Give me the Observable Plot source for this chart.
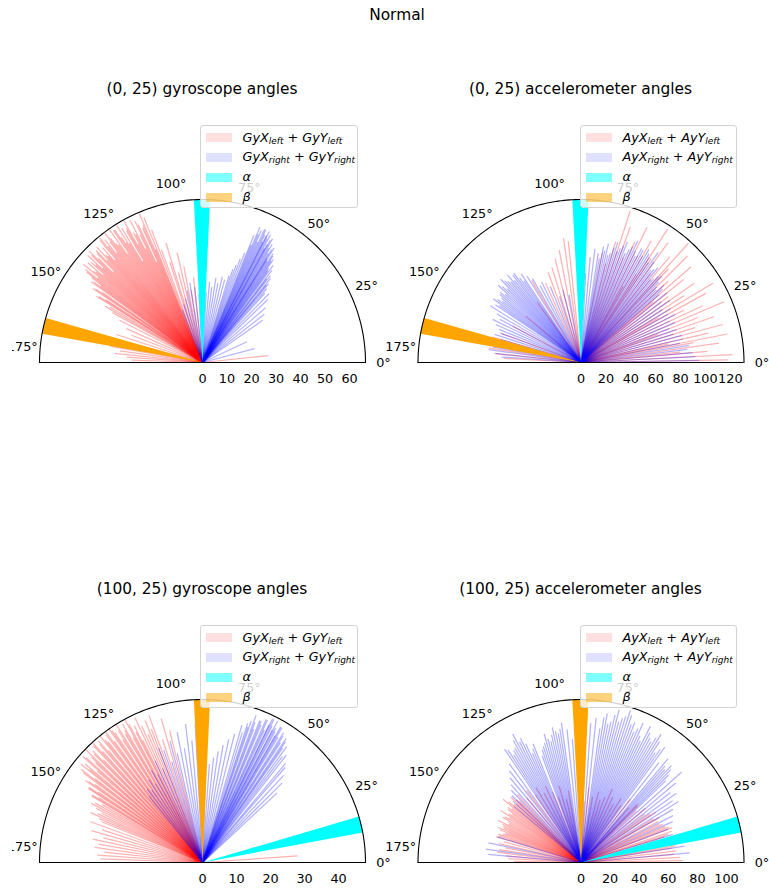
<!DOCTYPE html>
<html><head><meta charset="utf-8">
<script src="https://cdn.jsdelivr.net/npm/d3@7"></script>
<script src="https://cdn.jsdelivr.net/npm/@observablehq/plot@0.6"></script>
<style>
body{margin:0;background:#fff;}
#fig{position:relative;width:769px;height:888px;overflow:hidden;font-family:"DejaVu Sans",sans-serif;color:#000;background:#fff;}
.ttl{position:absolute;font-size:15.4px;white-space:nowrap;transform:translate(-50%,-50%);line-height:1;}
.panel{position:absolute;}
.leg{position:absolute;background:rgba(255,255,255,0.8);border:1px solid #d3d3d3;border-radius:3px;box-sizing:border-box;}
.patch{position:absolute;left:5px;width:26px;height:9px;}
.ltxt{position:absolute;left:41.5px;font-size:12.8px;line-height:1;white-space:nowrap;transform:translateY(-50%);}
.ltxt i{font-style:italic;}
.ltxt sub{font-size:70%;vertical-align:-0.28em;line-height:0;}
</style></head>
<body><div id="fig"></div>
<script>
// ---------- data ----------
const figureTitle = "Normal";
const panelTitles = ["(0, 25) gyroscope angles", "(0, 25) accelerometer angles", "(100, 25) gyroscope angles", "(100, 25) accelerometer angles"];
const thetaTicks = [0, 25, 50, 75, 100, 125, 150, 175];
const rTicksGyro0 = [0, 10, 20, 30, 40, 50, 60];
const rTicksAcc0 = [0, 20, 40, 60, 80, 100, 120];
const rTicksGyro100 = [0, 10, 20, 30, 40];
const rTicksAcc100 = [0, 20, 40, 60, 80, 100];
const rMax = [66.5, 131, 47.9, 112];
const alphaAngles = [90.2, 90.2, 13.5, 13.5];
const betaAngles = [167, 167, 90.2, 90.2];
const wedgeWidthDeg = 5.7;
const gyroLegend = ["GyX|left|GyY|left", "GyX|right|GyY|right"];
const accLegend = ["AyX|left|AyY|left", "AyX|right|AyY|right"];

// [theta (deg), r]
const gyro0Left = [[111,58],[112,64],[112.5,50],[113,66],[114,60],[114.5,45],[115,62],[116,58],[116.5,52],[117,65],[118,60],[118.5,55],[119,66],[120,62],[120.5,48],[121,64],[122,66],[122.5,58],[123,61],[124,65],[124.5,54],[125,66],[126,60],[126.5,63],[127,66],[128,57],[128.5,64],[129,61],[130,65],[130.5,55],[131,62],[132,59],[132.5,64],[133,57],[134,62],[134.5,52],[135,60],[136,63],[136.5,56],[137,64],[138,61],[138.5,54],[139,62],[140,58],[141,55],[142,60],[143,52],[144,56],[145,50],[146,54],[147,47],[148,51],[149,44],[150,46],[151,42],
  [113.5,61],[115.5,64],[117.5,59],[119.5,63],[121.5,57],[123.5,65],[125.5,59],[127.5,62],[129.5,66],[131.5,58],[133.5,63],[135.5,65],[137.5,59],[139.5,57],[141.5,61],[143.5,55],[145.5,53],[147.5,50],[140.5,63],[142.5,57],
  [96,35],[99,30],[101,40],[103,46],[105,38],[107,51],[108,43],[110,49],[153,38],[156,34],[159,31],[162,37],[165,33],[168,36],[170,38],[172,34],[174,36],[176,31],[178,29],[6,27]];
const gyro0Right = [[49,40],[50,42],[51,44],[52,45],[53,47],[54,49],[55,47],[55.5,51],[56,50],[57,53],[57.5,49],[58,55],[59,52],[59.5,56],[60,54],[61,57],[61.5,53],[62,59],[63,60],[63.5,55],[64,58],[65,60],[65.5,54],[66,59],[67,60],[67.5,52],[68,56],[69,48],[70,45],[71,42],[72,40],
  [54.5,46],[56.5,52],[58.5,54],[60.5,58],[62.5,57],[64.5,60],[66.5,57],[58.2,50],[61.2,55],[63.2,58],[52.5,43],[50.5,41],
  [35,30],[38,32],[41,34],[44,37],[46,39],[48,38],[73,37],[75,35],[77,36],[79,33],[81,35],[83,31],[85,33],[87,29],[93,28],[96,31],[99,33],[102,30],[105,27],[108,25],[111,23],[25,20],[15,22]];
const acc0Left = [[1,118],[3,122],[5,102],[6,80],[8,112],[10,92],[11,120],[12,72],[13,105],[15,118],[17,96],[19,113],[20,66],[21,101],[23,125],[25,108],[27,93],[29,115],[30,72],[31,124],[33,99],[35,111],[37,88],[39,106],[40,76],[41,117],[43,96],[45,121],[47,103],[48,129],[50,111],[52,91],[54,119],[56,101],[57,128],[58,84],[60,113],[61,70],[62,97],[64,121],[66,106],[68,91],[70,116],[72,128],[74,101],[76,82],[79,90],
  [96,98],[98,101],[101,92],[104,86],[107,80],[110,77],[114,70],[121,77],[126,60],[140,58],[152,62],[160,68],[164,74],[168,72],[171,75],[174,70],[177,62]];
const acc0Right = [[100,55],[104,60],[108,56],[112,66],[116,72],[118,70],[120,78],[122,82],[124,86],[126,84],[128,89],[129,85],[130,92],[132,88],[134,93],[136,88],[138,82],[140,85],[142,80],[144,87],[146,83],[148,86],[150,78],[152,74],[154,79],[156,75],[158,71],[160,69],[162,73],[164,67],[166,71],[168,74],[170,72],[172,75],[174,69],[176,64],
  [125,80],[127,90],[131,86],[133,90],[135,84],[137,91],[139,86],[141,82],[143,84],[145,80],
  [1,95],[3,92],[5,90],[7,86],[9,88],[11,81],[13,84],[15,84],[17,78],[19,81],[21,76],[23,82],[25,79],[27,85],[29,80],[31,84],[33,78],[35,87],[37,81],[39,89],[41,83],[43,91],[45,86],[47,95],[49,89],[51,98],[53,93],[55,108],[57,101],[59,106],[61,103],[63,96],[65,108],[67,99],[69,104],[71,97],[73,101],[75,91],[77,98],[79,95],[81,89],[83,92],[85,85],[87,72],
  [42,88],[44,84],[46,90],[48,93],[50,87],[52,95],[54,100],[56,97],[58,103],[60,99],[62,104],[64,100],[66,102],[68,95],[70,100],[72,94],[74,96],[76,89],[78,92],[80,85]];
const gyro100Left = [[104,40],[106,44],[108,38],[110,46],[111,42],[112,45],[113,41],[114,44],[115,47],[116,40],[117,43],[118,46],[119,42],[120,47],[121,44],[122,48],[123,43],[124,46],[125,48],[126,44],[127,47],[128,45],[129,48],[130,43],[131,46],[132,44],[133,47],[134,42],[135,45],[136,48],[137,43],[138,46],[139,41],[140,45],[141,46],[142,40],[143,44],[144,39],[145,42],[146,37],[147,40],[148,36],[149,38],[150,34],[152,37],[154,33],[156,36],[158,32],[160,35],[162,31],[164,34],[166,30],[168,33],[170,31],[172,32],[174,29],[176,31],[178,30],[4,28],
  [116.5,45],[118.5,48],[120.5,45],[122.5,46],[124.5,47],[126.5,48],[128.5,46],[130.5,47],[132.5,48],[134.5,46],[136.5,45],[138.5,47],[140.5,43],[142.5,45],[144.5,41],[146.5,40],[148.5,38],[151,36],[153,35],[155,34],[157,33]];
const gyro100Right = [[91,38],[93,41],[95,36],[97,41],[99,34],[101,39],[103,33],[105,37],[107,31],[109,35],[111,36],[113,30],[115,33],[117,29],[119,31],[121,27],[123,29],[125,26],[127,27],[129,25],
  [43,30],[45,33],[47,35],[49,37],[50,38],[52,40],[53,39],[54,42],[55,41],[56,44],[57,42],[58,45],[59,43],[60,46],[61,44],[62,47],[63,45],[64,47],[65,43],[66,46],[67,44],[68,45],[69,42],[70,46],[71,44],[72,43],[73,40],[74,42],[76,39],[78,37],[80,35],[82,33],[84,31],[86,29],[88,28],
  [55.5,43],[57.5,44],[59.5,46],[61.5,45],[63.5,47],[65.5,46],[67.5,45],[69.5,44],[71.5,42],[62.2,44],[64.2,45],[60.2,43]];
const acc100Left = [[100,50],[103,45],[106,55],[109,48],[112,52],[115,58],[118,54],[121,60],[124,56],[127,62],[130,58],[133,64],[135,60],[137,66],[139,61],[141,69],[143,63],[145,58],[147,66],[149,61],[151,57],[153,64],[155,59],[157,62],[159,56],[161,60],[163,61],[165,55],[167,58],[169,53],[171,57],[173,58],[175,52],[177,50],[179,46],
  [136,62],[138,60],[140,65],[142,60],[144,62],[146,60],[148,58],[150,62],[152,56],[154,60],[156,58],[158,60],[160,57],[162,59],
  [1,70],[3,68],[5,64],[7,66],[9,63],[11,68],[13,62],[15,65],[17,60],[19,66],[21,67],[23,63],[25,62],[28,60],[31,58],[34,62],[37,55],[40,58],[43,52],[46,56],[49,50],[52,55],[55,48],[58,52],[61,46],[64,50],[67,55],[70,48],[73,45],[76,50],[80,46],[84,52],[87,42],
  [10,66],[14,64],[18,63],[22,65],[26,60],[30,62],[35,58],[45,55]];
const acc100Right = [[94,85],[96,92],[98,97],[100,90],[102,95],[104,86],[106,92],[108,84],[110,78],[112,88],[114,82],[116,95],[118,100],[120,91],[122,87],[124,94],[126,84],[128,80],[130,76],[132,72],[134,69],[136,66],[138,63],[140,60],[163,60],[168,65],[172,66],[175,64],
  [99,93],[101,92],[103,90],[105,88],[107,86],[109,82],[113,85],[115,90],[117,93],[119,96],[121,90],[123,92],
  [5,75],[9,72],[13,70],[17,66],[21,64],[24,69],[27,71],[30,73],[32,79],[34,76],[36,81],[38,78],[40,85],[42,93],[44,81],[46,89],[48,86],[50,93],[52,87],[54,98],[56,91],[58,104],[60,96],[62,101],[64,93],[66,105],[68,97],[70,101],[71,107],[72,110],[74,103],[76,108],[78,99],[80,104],[82,93],[84,100],[86,96],[88,86],
  [55,95],[57,99],[59,100],[61,98],[63,105],[65,96],[67,100],[69,103],[73,105],[75,100],[77,104],[79,97],[81,101],[45,85],[47,91],[49,88]];

// ---------- layout ----------
const fig = document.getElementById("fig");
const P = 163; // pixel radius
const panels = [
  {title: panelTitles[0], left: 12, top: 160, width: 388, height: 232, cx: 202, cy: 362, R: rMax[0], rTicks: rTicksGyro0, red: gyro0Left, blue: gyro0Right, alpha: alphaAngles[0], beta: betaAngles[0], legend: gyroLegend, legX: 200, legY: 125, legW: 158, titleY: 90},
  {title: panelTitles[1], left: 385, top: 160, width: 384, height: 232, cx: 580.5, cy: 362, R: rMax[1], rTicks: rTicksAcc0, red: acc0Left, blue: acc0Right, alpha: alphaAngles[1], beta: betaAngles[1], legend: accLegend, legX: 580, legY: 125, legW: 157, titleY: 90},
  {title: panelTitles[2], left: 12, top: 660, width: 388, height: 228, cx: 202, cy: 862, R: rMax[2], rTicks: rTicksGyro100, red: gyro100Left, blue: gyro100Right, alpha: alphaAngles[2], beta: betaAngles[2], legend: gyroLegend, legX: 200, legY: 625, legW: 158, titleY: 590},
  {title: panelTitles[3], left: 385, top: 660, width: 384, height: 228, cx: 580.5, cy: 862, R: rMax[3], rTicks: rTicksAcc100, red: acc100Left, blue: acc100Right, alpha: alphaAngles[3], beta: betaAngles[3], legend: accLegend, legX: 580, legY: 625, legW: 157, titleY: 590}
];

const rad = d => d * Math.PI / 180;
function wedge(theta, R) {
  const steps = d3.range(0, 11).map(k => theta - wedgeWidthDeg / 2 + wedgeWidthDeg * k / 10);
  return [{t: theta, r: 0}, ...steps.map(t => ({t, r: R})), {t: theta, r: 0}];
}

function addTitle(text, x, y) {
  const d = document.createElement("div");
  d.className = "ttl"; d.textContent = text;
  d.style.left = x + "px"; d.style.top = y + "px";
  fig.appendChild(d);
}
function mathLabel(spec) {
  const [a, s1, b, s2] = spec.split("|");
  return `<i>${a}</i><sub><i>${s1}</i></sub> + <i>${b}</i><sub><i>${s2}</i></sub>`;
}

addTitle(figureTitle, 397, 16);

for (const p of panels) {
  addTitle(p.title, p.cx, p.titleY);
  const R = p.R;
  const ox = p.cx - p.left, oy = p.cy - p.top;
  const chart = Plot.plot({
    width: p.width, height: p.height,
    marginLeft: ox - P, marginRight: p.width - ox - P,
    marginTop: oy - P, marginBottom: p.height - oy,
    x: {domain: [-R, R]},
    y: {domain: [0, R], axis: null},
    style: {background: "transparent", overflow: "hidden", fontFamily: "DejaVu Sans", fontSize: "12.8px", color: "black"},
    marks: [
      Plot.link(p.red, {x1: 0, y1: 0, x2: d => d[1] * Math.cos(rad(d[0])), y2: d => d[1] * Math.sin(rad(d[0])), stroke: "red", strokeOpacity: 0.3, strokeWidth: 1.25, strokeLinecap: "butt"}),
      Plot.link(p.blue, {x1: 0, y1: 0, x2: d => d[1] * Math.cos(rad(d[0])), y2: d => d[1] * Math.sin(rad(d[0])), stroke: "blue", strokeOpacity: 0.3, strokeWidth: 1.25, strokeLinecap: "butt"}),
      Plot.line(wedge(p.alpha, R), {x: d => d.r * Math.cos(rad(d.t)), y: d => d.r * Math.sin(rad(d.t)), fill: "cyan", stroke: "none"}),
      Plot.line(wedge(p.beta, R), {x: d => d.r * Math.cos(rad(d.t)), y: d => d.r * Math.sin(rad(d.t)), fill: "orange", stroke: "none"}),
      Plot.line(d3.range(0, 181), {x: t => R * Math.cos(rad(t)), y: t => R * Math.sin(rad(t)), stroke: "black", strokeWidth: 1.1, fill: "none"}),
      Plot.ruleY([0], {x1: -R, x2: R, stroke: "black", strokeWidth: 1.1}),
      Plot.text(thetaTicks, {x: t => R * 1.11 * Math.cos(rad(t)), y: t => R * 1.11 * Math.sin(rad(t)), text: t => `${t}°`, fontSize: 12.8, fill: "black"}),
      Plot.axisX({ticks: p.rTicks, tickSize: 0, tickPadding: 11, fontSize: 12.8, label: null, fill: "black"})
    ]
  });
  const wrap = document.createElement("div");
  wrap.className = "panel";
  wrap.style.left = p.left + "px"; wrap.style.top = p.top + "px";
  wrap.appendChild(chart);
  fig.appendChild(wrap);

  // legend
  const leg = document.createElement("div");
  leg.className = "leg";
  leg.style.left = p.legX + "px"; leg.style.top = p.legY + "px";
  leg.style.width = p.legW + "px"; leg.style.height = "83px";
  const rows = [
    {color: "rgba(255,0,0,0.12)", html: mathLabel(p.legend[0]), y: 11.5},
    {color: "rgba(0,0,255,0.12)", html: mathLabel(p.legend[1]), y: 31},
    {color: "rgba(0,255,255,0.5)", html: "<i>α</i>", y: 51},
    {color: "rgba(255,165,0,0.5)", html: "<i>β</i>", y: 71}
  ];
  for (const r of rows) {
    const pa = document.createElement("div");
    pa.className = "patch"; pa.style.background = r.color; pa.style.top = (r.y - 4.5) + "px";
    leg.appendChild(pa);
    const t = document.createElement("div");
    t.className = "ltxt"; t.innerHTML = r.html; t.style.top = r.y + "px";
    leg.appendChild(t);
  }
  fig.appendChild(leg);
}
</script></body></html>
